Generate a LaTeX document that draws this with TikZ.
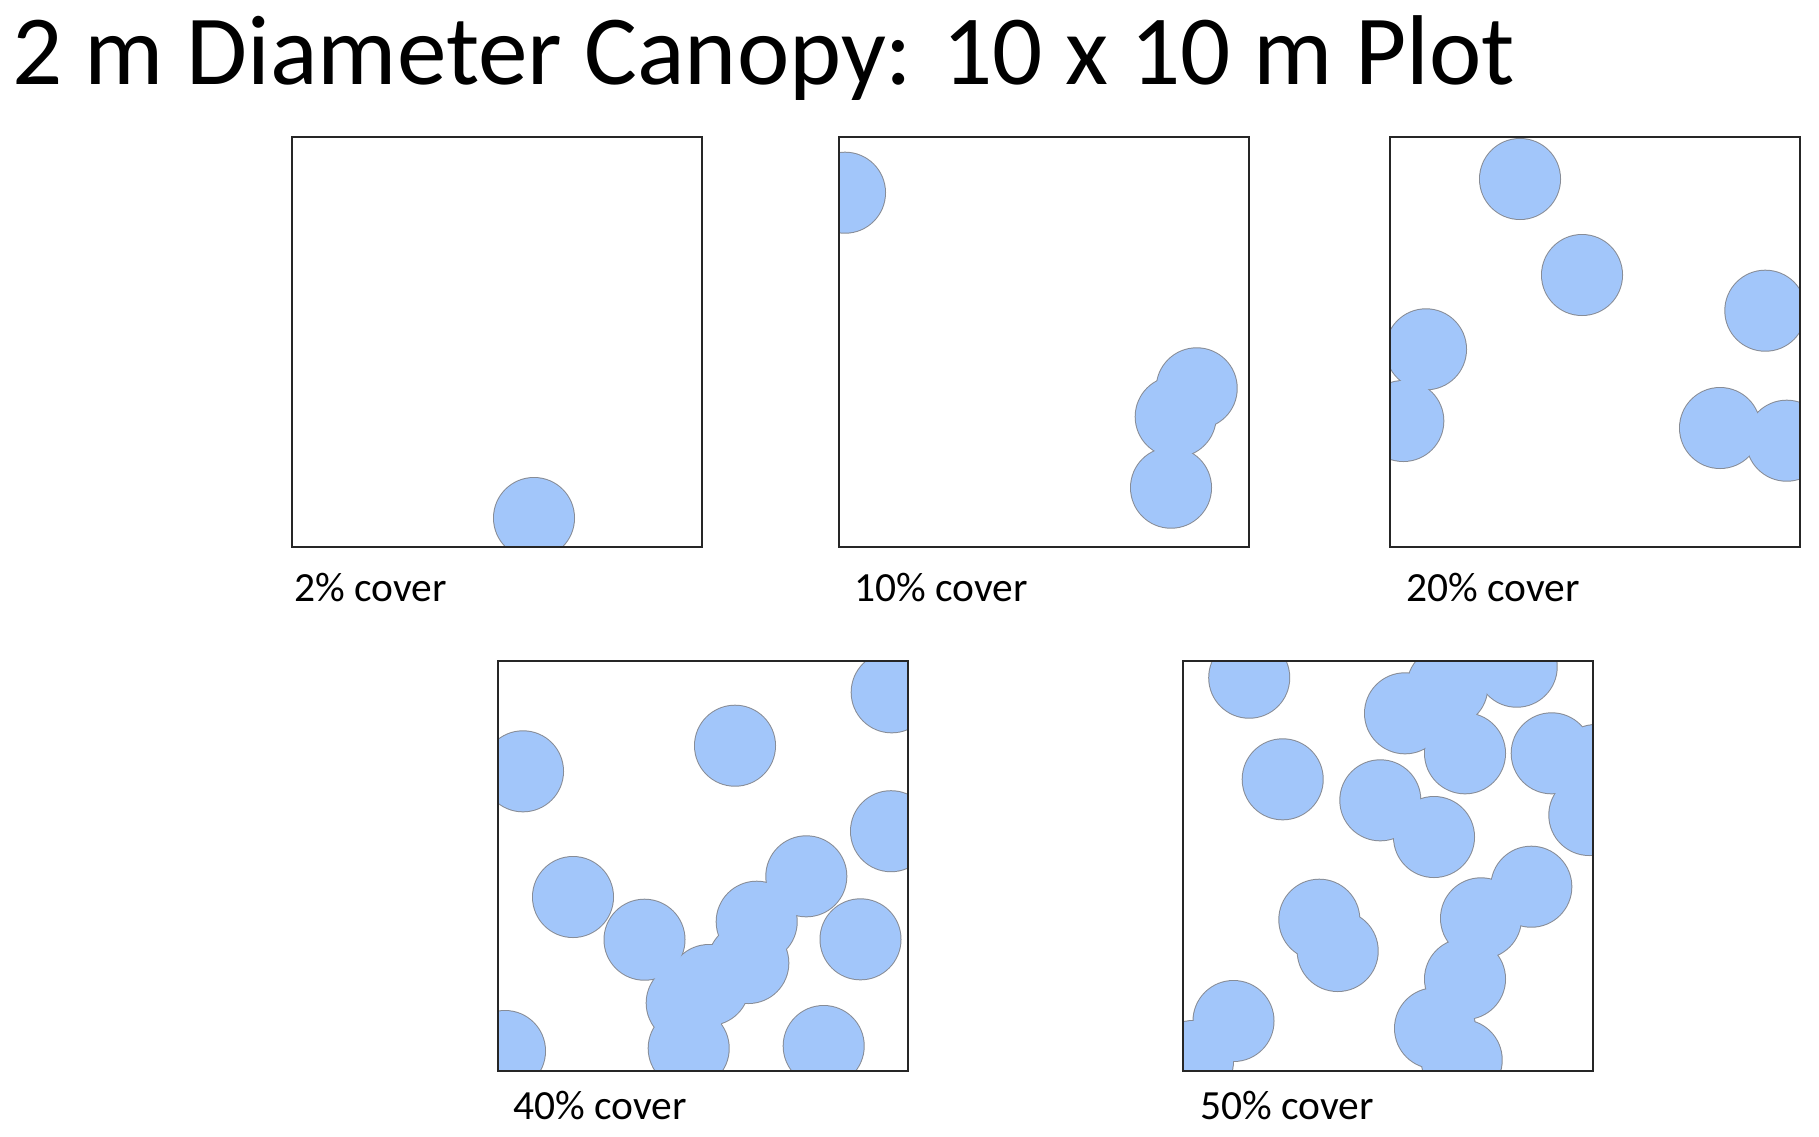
\documentclass[tikz,border=0pt]{standalone}
\usepackage{fontspec}
\setmainfont{Carlito}
\definecolor{canopy}{RGB}{162,198,250}
\definecolor{rim}{RGB}{135,140,150}
\newcommand\cplot[3]{%
  \begin{scope}
    \clip (#1,#2) rectangle ++(410,410);
    \foreach \cx/\cy in {#3} \draw[rim,line width=2pt] (\cx,\cy) circle[radius=40];
    \foreach \cx/\cy in {#3} \fill[canopy] (\cx,\cy) circle[radius=40];
  \end{scope}
  \draw[plotframe] (#1,#2) rectangle ++(410,410);
}
\begin{document}
\begin{tikzpicture}[x=1pt,y=-1pt,
  plotframe/.style={draw=black!85,line width=1.4pt},
  lbl/.style={anchor=base west,inner sep=0pt,font=\fontsize{41.5}{48}\selectfont},
]
\useasboundingbox[fill=white] (0,0) rectangle (1819,1136);
\node[anchor=base west,inner sep=0pt,font=\fontsize{99.2}{112}\selectfont] (title) at (12,84) {2 m Diameter Canopy: 10 x 10 m Plot};

\cplot{292}{137}{534/518}
\cplot{839}{137}{845/192.7, 1196.7/388.3, 1175.7/416.7, 1171/487.7}
\cplot{1390}{137}{1520/179, 1582/275, 1765.3/310.7, 1426/349.3, 1403.3/421, 1720/428, 1786.7/440.7}
\cplot{498}{661}{891.7/692.3, 735/745.7, 523/771.3, 891/831.2, 573/897, 806.3/876.3, 756.7/921.7, 748.3/963, 644.5/939.7, 686.7/1003, 709/985, 688.7/1048.3, 505/1051, 823.7/1046, 860.5/939.3}
\cplot{1183}{661}{1249.2/677.7, 1282.7/779.3, 1380.3/800.3, 1434/837, 1405/713.3, 1465/753.3, 1516.7/666.7, 1447.3/686.7, 1551.7/753.3, 1596/765, 1589.3/815, 1319.3/919.7, 1337.7/951, 1531.3/886.7, 1481/918.3, 1465/979, 1435/1028.3, 1461.7/1060, 1233.5/1021, 1193/1061}

\node[lbl] (l2) at (294,601) {2\% cover};
\node[lbl] (l10) at (854,601) {10\% cover};
\node[lbl] (l20) at (1406,601) {20\% cover};
\node[lbl] (l40) at (513,1119) {40\% cover};
\node[lbl] (l50) at (1200,1119) {50\% cover};
\end{tikzpicture}
\end{document}
